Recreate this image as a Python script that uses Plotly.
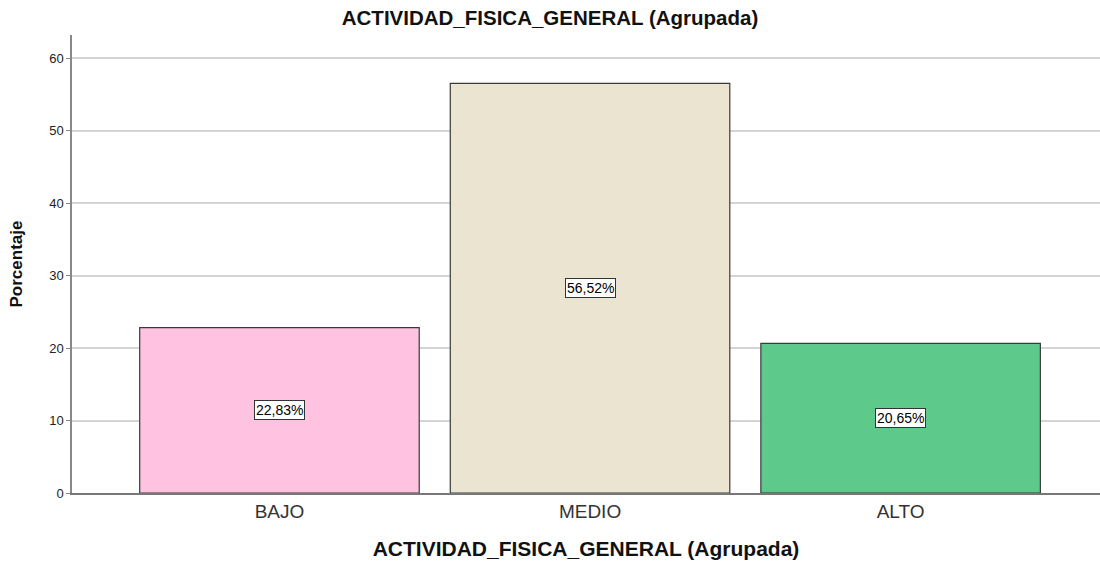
import plotly.graph_objects as go

categories = ["BAJO", "MEDIO", "ALTO"]
values = [22.83, 56.52, 20.65]
labels = ["22,83%", "56,52%", "20,65%"]
colors = ["#FFC2E1", "#EBE4D0", "#5DC98B"]

FONT = "Liberation Sans, Arial"

fig = go.Figure()
fig.add_trace(go.Bar(
    x=categories, y=values,
    marker=dict(color=colors, line=dict(color="#3a3a3a", width=1.2)),
    width=0.9, hoverinfo="skip",
))
for c, v, t in zip(categories, values, labels):
    fig.add_annotation(x=c, y=v / 2, text=t, showarrow=False,
                       font=dict(family=FONT, size=14, color="#000"),
                       bgcolor="white", bordercolor="#333", borderwidth=1, borderpad=1)

fig.update_layout(
    width=1100, height=561,
    margin=dict(l=72, r=0, t=35, b=68),
    paper_bgcolor="white", plot_bgcolor="white",
    showlegend=False,
    title=dict(text="<b>ACTIVIDAD_FISICA_GENERAL (Agrupada)</b>", x=0.5, xref="container",
               xanchor="center", y=0.968, yanchor="middle",
               font=dict(family=FONT, size=20.5, color="#111")),
    font=dict(family=FONT),
)
fig.update_xaxes(
    range=[-0.668, 2.642], showgrid=False, showline=True, linecolor="#777", linewidth=1.5,
    ticks="", tickfont=dict(size=19, color="#333"),
    title=dict(text="<b>ACTIVIDAD_FISICA_GENERAL (Agrupada)</b>", standoff=21,
               font=dict(size=21, color="#111")),
)
fig.update_yaxes(
    range=[0, 63.2], dtick=10, showgrid=True, gridcolor="#D4D4D4", gridwidth=1.5,
    showline=True, linecolor="#888", linewidth=1.5, zeroline=False,
    ticks="outside", ticklen=4, tickcolor="#888", tickfont=dict(size=13, color="#222"),
    title=dict(text="<b>Porcentaje</b>", standoff=22, font=dict(size=17, color="#111")),
)
fig.write_html("out.html", config={"displayModeBar": False},
               post_script="document.body.style.margin='0';document.body.style.overflow='hidden';")
